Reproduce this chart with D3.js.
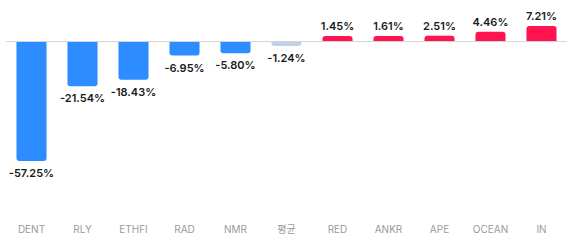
<!DOCTYPE html>
<html>
<head>
<meta charset="utf-8">
<script src="https://cdn.jsdelivr.net/npm/d3@7"></script>
<style>
  body { margin: 0; background: #fff; }
  svg { display: block; font-family: Inter, 'Noto Sans CJK KR', sans-serif; }
</style>
</head>
<body>
<div id="chart"></div>
<script>
'use strict'

var categories = ['DENT', 'RLY', 'ETHFI', 'RAD', 'NMR', '평균', 'RED', 'ANKR', 'APE', 'OCEAN', 'IN']
var values = [-57.25, -21.54, -18.43, -6.95, -5.8, -1.24, 1.45, 1.61, 2.51, 4.46, 7.21]
var avgLabel = '평균'

var width = 573
var height = 246
var baseY = 41
var minBar = 5

var svg = d3.select('#chart')
  .append('svg')
  .attr('width', width)
  .attr('height', height)

var x = d3.scaleBand()
  .domain(categories)
  .range([6, 567])
  .paddingInner(0.41)
  .paddingOuter(0.205)

var y = d3.scaleLinear()
  .domain([0, -57.25])
  .range([baseY, baseY + 120])

function color(d, i) {
  if (categories[i] === avgLabel) return '#bed3e8'
  return d < 0 ? '#2d8cff' : '#ff1450'
}

// bar end, with a minimum visible height
function barEnd(d) {
  var e = y(d)
  if (d < 0) return Math.max(e, baseY + minBar)
  return Math.min(e, baseY - minBar)
}

// rounded at the far end only
function barPath(x0, w, y0, y1, r) {
  var h = Math.abs(y1 - y0)
  r = Math.min(r, h, w / 2)
  if (y1 > y0) {
    return 'M' + x0 + ',' + y0 +
      'H' + (x0 + w) +
      'V' + (y1 - r) +
      'Q' + (x0 + w) + ',' + y1 + ' ' + (x0 + w - r) + ',' + y1 +
      'H' + (x0 + r) +
      'Q' + x0 + ',' + y1 + ' ' + x0 + ',' + (y1 - r) + 'Z'
  }
  return 'M' + x0 + ',' + y0 +
    'V' + (y1 + r) +
    'Q' + x0 + ',' + y1 + ' ' + (x0 + r) + ',' + y1 +
    'H' + (x0 + w - r) +
    'Q' + (x0 + w) + ',' + y1 + ' ' + (x0 + w) + ',' + (y1 + r) +
    'V' + y0 + 'Z'
}

var bar = svg.selectAll('.bar')
  .data(values)
  .enter()
  .append('g')
  .attr('class', 'bar')

bar.append('path')
  .attr('fill', color)
  .attr('d', function(d, i) {
    return barPath(x(categories[i]), x.bandwidth(), baseY, barEnd(d), 3)
  })

bar.append('text')
  .attr('x', function(d, i) { return x(categories[i]) + x.bandwidth() / 2 })
  .attr('y', function(d) { return d < 0 ? barEnd(d) + 16 : barEnd(d) - 6 })
  .attr('text-anchor', 'middle')
  .attr('font-size', '11px')
  .attr('font-weight', 600)
  .attr('fill', '#1a1a1a')
  .text(function(d) { return d.toFixed(2) + '%' })

svg.append('line')
  .attr('x1', 6)
  .attr('x2', 567)
  .attr('y1', baseY + 0.5)
  .attr('y2', baseY + 0.5)
  .attr('stroke', '#d6d6d6')
  .attr('stroke-width', 1)

var xAxis = d3.axisBottom(x).tickSize(0).tickPadding(0)

svg.append('g')
  .attr('class', 'x axis')
  .attr('transform', 'translate(0,' + 226 + ')')
  .call(xAxis)
  .call(function(g) { g.select('.domain').remove() })
  .selectAll('text')
  .attr('font-family', "Inter, 'Noto Sans CJK KR', sans-serif")
  .attr('font-size', '10px')
  .attr('fill', '#9a9a9a')
</script>
</body>
</html>
